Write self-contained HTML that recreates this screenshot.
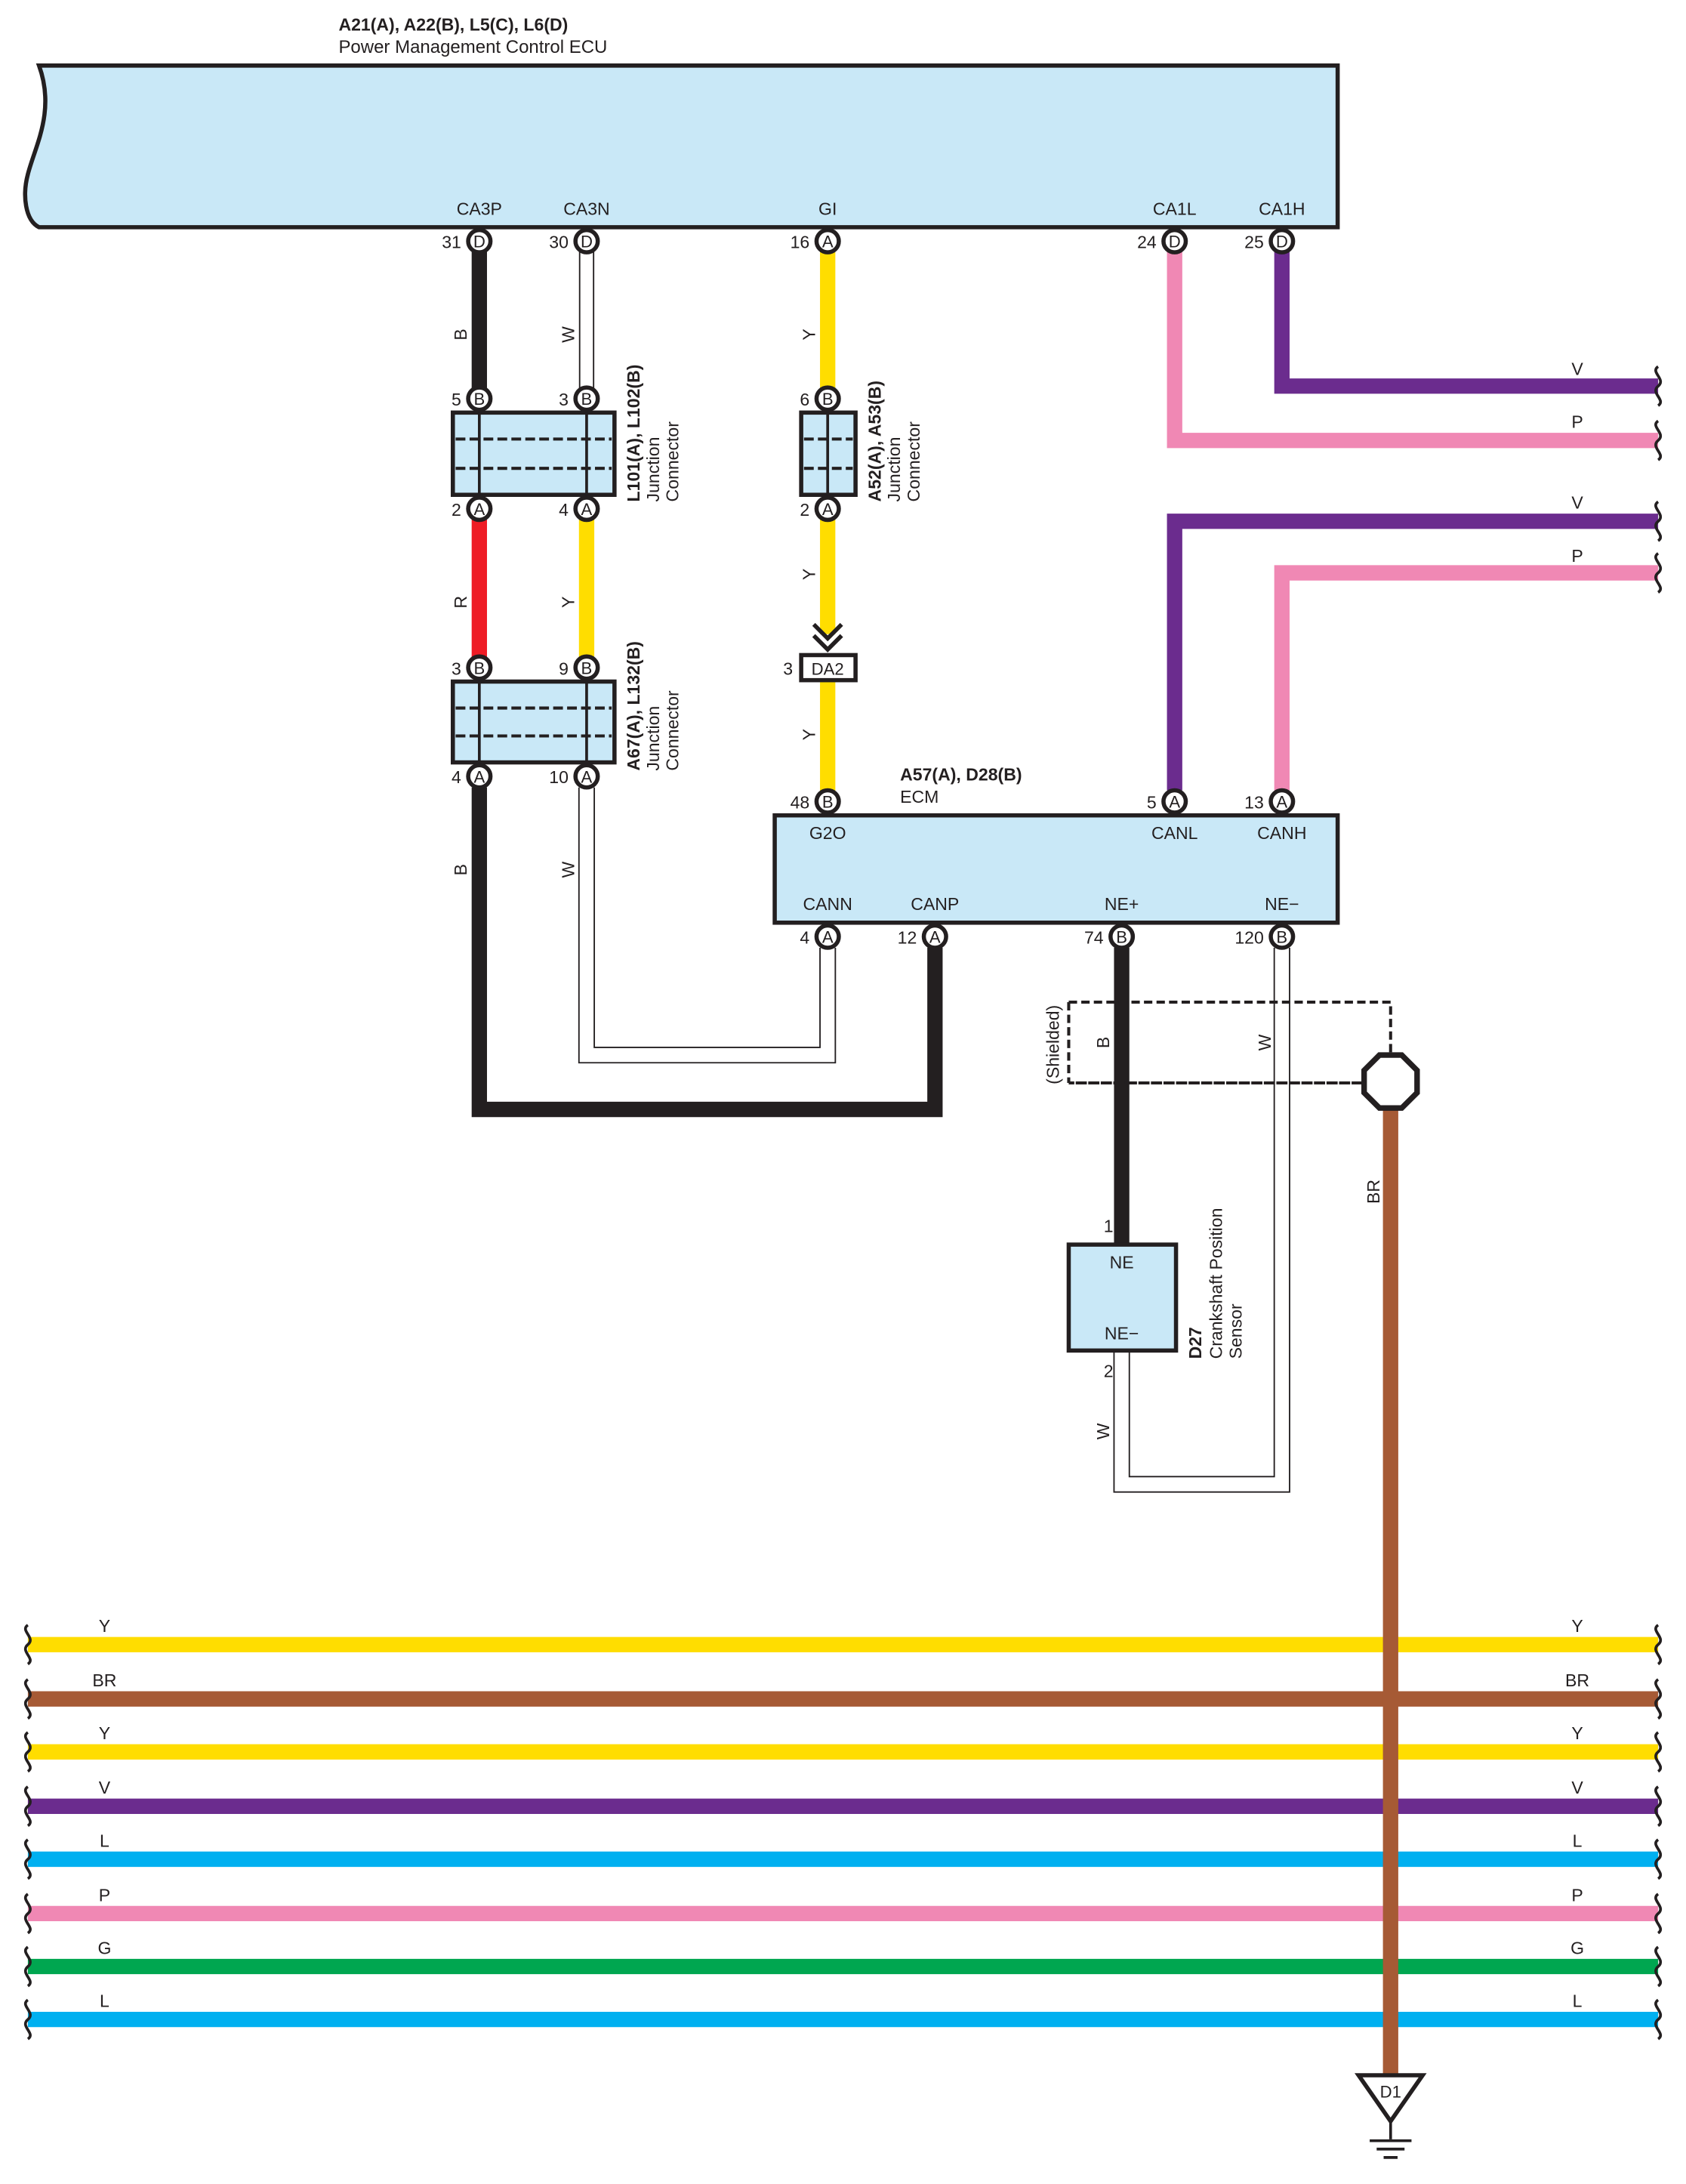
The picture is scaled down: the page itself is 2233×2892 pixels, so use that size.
<!DOCTYPE html>
<html><head><meta charset="utf-8"><style>
html,body{margin:0;padding:0;background:#fff}
svg{display:block}
text{font-family:"Liberation Sans",Arial,sans-serif;fill:#231f20}
</style></head><body>
<svg width="2233" height="2892" viewBox="0 0 1210 1567" xmlns="http://www.w3.org/2000/svg">
<defs>
<path id="sq" d="M0,-14 c-6,4 6,9 0,14 c-6,5 6,10 0,14" fill="none" stroke="#231f20" stroke-width="2"/>
</defs>
<rect width="1210" height="1567" fill="#fff"/>

<!-- ECU -->
<text x="243" y="22" font-size="12.5" font-weight="bold">A21(A), A22(B), L5(C), L6(D)</text>
<text x="243" y="38" font-size="13">Power Management Control ECU</text>
<path d="M28,47 L960,47 L960,163 L28,163 C18,158 16,140 20,125 C25,105 40,80 28,47 Z" fill="#c9e8f7" stroke="#231f20" stroke-width="3"/>
<g font-size="12.5" text-anchor="middle">
<text x="344" y="154">CA3P</text><text x="421" y="154">CA3N</text><text x="594" y="154">GI</text><text x="843" y="154">CA1L</text><text x="920" y="154">CA1H</text>
</g>

<!-- Top wires -->
<line x1="344" y1="180" x2="344" y2="280" stroke="#231f20" stroke-width="11"/>
<line x1="421" y1="180" x2="421" y2="280" stroke="#231f20" stroke-width="11"/>
<line x1="421" y1="178" x2="421" y2="282" stroke="#fff" stroke-width="9"/>
<line x1="594" y1="180" x2="594" y2="280" stroke="#ffdd00" stroke-width="11"/>
<path d="M843,180 L843,316 L1190,316" fill="none" stroke="#f088b4" stroke-width="11"/>
<path d="M920,180 L920,277 L1190,277" fill="none" stroke="#6b2c8e" stroke-width="11"/>
<path d="M843,567 L843,374 L1190,374" fill="none" stroke="#6b2c8e" stroke-width="11"/>
<path d="M920,567 L920,411 L1190,411" fill="none" stroke="#f088b4" stroke-width="11"/>
<use href="#sq" x="1190" y="277"/><use href="#sq" x="1190" y="316"/><use href="#sq" x="1190" y="374"/><use href="#sq" x="1190" y="411"/>
<g font-size="12.5" text-anchor="middle">
<text x="1132" y="269">V</text><text x="1132" y="307">P</text><text x="1132" y="365">V</text><text x="1132" y="403">P</text>
</g>

<!-- mid wires -->
<line x1="344" y1="372" x2="344" y2="472" stroke="#ee1c25" stroke-width="11"/>
<line x1="421" y1="372" x2="421" y2="472" stroke="#ffdd00" stroke-width="11"/>
<line x1="594" y1="372" x2="594" y2="455" stroke="#ffdd00" stroke-width="11"/>
<line x1="594" y1="488" x2="594" y2="570" stroke="#ffdd00" stroke-width="11"/>
<path d="M584,448 L594,458 L604,448 M584,456 L594,466 L604,456" fill="none" stroke="#231f20" stroke-width="3"/>
<rect x="575" y="470" width="39" height="18" fill="#fff" stroke="#231f20" stroke-width="3"/>
<text x="594" y="484" font-size="12" text-anchor="middle">DA2</text>
<text x="569" y="484" font-size="12.5" text-anchor="end">3</text>

<!-- lower loops -->
<path d="M344,565 L344,796 L671,796 L671,680" fill="none" stroke="#231f20" stroke-width="11"/>
<path d="M421,565 L421,757 L594,757 L594,680" fill="none" stroke="#231f20" stroke-width="12"/>
<path d="M421,563 L421,757 L594,757 L594,678" fill="none" stroke="#fff" stroke-width="10"/>

<!-- Junction boxes -->
<g stroke="#231f20" fill="#c9e8f7">
<rect x="325" y="296" width="116" height="59" stroke-width="3"/>
<rect x="325" y="489" width="116" height="58" stroke-width="3"/>
<rect x="575" y="296" width="39" height="59" stroke-width="3"/>
</g>
<g stroke="#231f20" stroke-width="2">
<line x1="344" y1="296" x2="344" y2="355"/><line x1="421" y1="296" x2="421" y2="355"/>
<line x1="344" y1="489" x2="344" y2="547"/><line x1="421" y1="489" x2="421" y2="547"/>
<line x1="594" y1="296" x2="594" y2="355"/>
</g>
<g stroke="#231f20" stroke-width="2.2" stroke-dasharray="7,3">
<line x1="327" y1="315" x2="439" y2="315"/><line x1="327" y1="336" x2="439" y2="336"/>
<line x1="327" y1="508" x2="439" y2="508"/><line x1="327" y1="528" x2="439" y2="528"/>
<line x1="577" y1="315" x2="612" y2="315"/><line x1="577" y1="336" x2="612" y2="336"/>
</g>
<g font-size="12.5">
<text transform="translate(459,360) rotate(-90)" font-weight="bold">L101(A), L102(B)</text>
<text transform="translate(473,360) rotate(-90)">Junction</text>
<text transform="translate(487,360) rotate(-90)">Connector</text>
<text transform="translate(459,553) rotate(-90)" font-weight="bold">A67(A), L132(B)</text>
<text transform="translate(473,553) rotate(-90)">Junction</text>
<text transform="translate(487,553) rotate(-90)">Connector</text>
<text transform="translate(632,360) rotate(-90)" font-weight="bold">A52(A), A53(B)</text>
<text transform="translate(646,360) rotate(-90)">Junction</text>
<text transform="translate(660,360) rotate(-90)">Connector</text>
</g>

<!-- ECM -->
<text x="646" y="560" font-size="12.5" font-weight="bold">A57(A), D28(B)</text>
<text x="646" y="576" font-size="12.5">ECM</text>
<rect x="556" y="585" width="404" height="77" fill="#c9e8f7" stroke="#231f20" stroke-width="3"/>
<g font-size="12.5" text-anchor="middle">
<text x="594" y="602">G2O</text><text x="843" y="602">CANL</text><text x="920" y="602">CANH</text>
<text x="594" y="653">CANN</text><text x="671" y="653">CANP</text><text x="805" y="653">NE+</text><text x="920" y="653">NE−</text>
</g>

<!-- sensor wires -->
<line x1="805" y1="680" x2="805" y2="895" stroke="#231f20" stroke-width="11"/>
<path d="M920,680 L920,1065 L805,1065 L805,968" fill="none" stroke="#231f20" stroke-width="12"/>
<path d="M920,678 L920,1065 L805,1065 L805,966" fill="none" stroke="#fff" stroke-width="10"/>
<path d="M767,719 L998,719 L998,757 M978,777 L767,777 Z" fill="none" stroke="#231f20" stroke-width="2.2" stroke-dasharray="6,3"/>
<line x1="767" y1="719" x2="767" y2="777" stroke="#231f20" stroke-width="2.2" stroke-dasharray="6,3"/>
<text transform="translate(760,778) rotate(-90)" font-size="12.5">(Shielded)</text>

<!-- sensor -->
<rect x="767" y="893" width="77" height="76" fill="#c9e8f7" stroke="#231f20" stroke-width="3"/>
<text x="805" y="910" font-size="12.5" text-anchor="middle">NE</text>
<text x="805" y="961" font-size="12.5" text-anchor="middle">NE−</text>
<text x="799" y="884" font-size="12.5" text-anchor="end">1</text>
<text x="799" y="988" font-size="12.5" text-anchor="end">2</text>
<text transform="translate(862,975) rotate(-90)" font-size="12.5" font-weight="bold">D27</text>
<text transform="translate(877,975) rotate(-90)" font-size="12.5">Crankshaft Position</text>
<text transform="translate(891,975) rotate(-90)" font-size="12.5">Sensor</text>

<!-- bottom harness -->
<g stroke-width="11">
<line x1="20" y1="1180" x2="1190" y2="1180" stroke="#ffdd00"/>
<line x1="20" y1="1219" x2="1190" y2="1219" stroke="#a65a35"/>
<line x1="20" y1="1257" x2="1190" y2="1257" stroke="#ffdd00"/>
<line x1="20" y1="1296" x2="1190" y2="1296" stroke="#6b2c8e"/>
<line x1="20" y1="1334" x2="1190" y2="1334" stroke="#00b0f0"/>
<line x1="20" y1="1373" x2="1190" y2="1373" stroke="#f088b4"/>
<line x1="20" y1="1411" x2="1190" y2="1411" stroke="#00a650"/>
<line x1="20" y1="1449" x2="1190" y2="1449" stroke="#00b0f0"/>
</g>
<g>
<use href="#sq" x="20" y="1180"/><use href="#sq" x="20" y="1219"/><use href="#sq" x="20" y="1257"/><use href="#sq" x="20" y="1296"/>
<use href="#sq" x="20" y="1334"/><use href="#sq" x="20" y="1373"/><use href="#sq" x="20" y="1411"/><use href="#sq" x="20" y="1449"/>
<use href="#sq" x="1190" y="1180"/><use href="#sq" x="1190" y="1219"/><use href="#sq" x="1190" y="1257"/><use href="#sq" x="1190" y="1296"/>
<use href="#sq" x="1190" y="1334"/><use href="#sq" x="1190" y="1373"/><use href="#sq" x="1190" y="1411"/><use href="#sq" x="1190" y="1449"/>
</g>
<g font-size="12.5" text-anchor="middle">
<text x="75" y="1171">Y</text><text x="75" y="1210">BR</text><text x="75" y="1248">Y</text><text x="75" y="1287">V</text>
<text x="75" y="1325">L</text><text x="75" y="1364">P</text><text x="75" y="1402">G</text><text x="75" y="1440">L</text>
<text x="1132" y="1171">Y</text><text x="1132" y="1210">BR</text><text x="1132" y="1248">Y</text><text x="1132" y="1287">V</text>
<text x="1132" y="1325">L</text><text x="1132" y="1364">P</text><text x="1132" y="1402">G</text><text x="1132" y="1440">L</text>
</g>

<!-- BR vertical to ground -->
<line x1="998" y1="795" x2="998" y2="1492" stroke="#a65a35" stroke-width="11"/>
<polygon points="990,757 1006,757 1017,768 1017,784 1006,795 990,795 979,784 979,768" fill="#fff" stroke="#231f20" stroke-width="4"/>
<polygon points="975,1489 1021,1489 998,1522" fill="#fff" stroke="#231f20" stroke-width="3"/>
<text x="998" y="1505" font-size="12" text-anchor="middle">D1</text>
<g stroke="#231f20" stroke-width="2">
<line x1="998" y1="1522" x2="998" y2="1535"/>
<line x1="983" y1="1536" x2="1013" y2="1536"/>
<line x1="988" y1="1542" x2="1008" y2="1542"/>
<line x1="993" y1="1548" x2="1003" y2="1548"/>
</g>

<!-- wire labels (rotated) -->
<g font-size="12.5" text-anchor="middle">
<text transform="translate(335,240) rotate(-90)">B</text>
<text transform="translate(412,240) rotate(-90)">W</text>
<text transform="translate(585,240) rotate(-90)">Y</text>
<text transform="translate(335,432) rotate(-90)">R</text>
<text transform="translate(412,432) rotate(-90)">Y</text>
<text transform="translate(585,412) rotate(-90)">Y</text>
<text transform="translate(585,527) rotate(-90)">Y</text>
<text transform="translate(335,624) rotate(-90)">B</text>
<text transform="translate(412,624) rotate(-90)">W</text>
<text transform="translate(796,748) rotate(-90)">B</text>
<text transform="translate(912,748) rotate(-90)">W</text>
<text transform="translate(990,855) rotate(-90)">BR</text>
<text transform="translate(796,1027) rotate(-90)">W</text>
</g>

<!-- pins -->
<g font-size="12" text-anchor="middle">
<g stroke="#231f20" stroke-width="3" fill="#fff">
<circle cx="344" cy="173" r="8"/><circle cx="421" cy="173" r="8"/><circle cx="594" cy="173" r="8"/><circle cx="843" cy="173" r="8"/><circle cx="920" cy="173" r="8"/>
<circle cx="344" cy="286" r="8"/><circle cx="421" cy="286" r="8"/><circle cx="594" cy="286" r="8"/>
<circle cx="344" cy="365" r="8"/><circle cx="421" cy="365" r="8"/><circle cx="594" cy="365" r="8"/>
<circle cx="344" cy="479" r="8"/><circle cx="421" cy="479" r="8"/>
<circle cx="344" cy="557" r="8"/><circle cx="421" cy="557" r="8"/>
<circle cx="594" cy="575" r="8"/><circle cx="843" cy="575" r="8"/><circle cx="920" cy="575" r="8"/>
<circle cx="594" cy="672" r="8"/><circle cx="671" cy="672" r="8"/><circle cx="805" cy="672" r="8"/><circle cx="920" cy="672" r="8"/>
</g>
<text x="344" y="177.5">D</text><text x="421" y="177.5">D</text><text x="594" y="177.5">A</text><text x="843" y="177.5">D</text><text x="920" y="177.5">D</text>
<text x="344" y="290.5">B</text><text x="421" y="290.5">B</text><text x="594" y="290.5">B</text>
<text x="344" y="369.5">A</text><text x="421" y="369.5">A</text><text x="594" y="369.5">A</text>
<text x="344" y="483.5">B</text><text x="421" y="483.5">B</text>
<text x="344" y="561.5">A</text><text x="421" y="561.5">A</text>
<text x="594" y="579.5">B</text><text x="843" y="579.5">A</text><text x="920" y="579.5">A</text>
<text x="594" y="676.5">A</text><text x="671" y="676.5">A</text><text x="805" y="676.5">B</text><text x="920" y="676.5">B</text>
</g>
<g font-size="12.5" text-anchor="end">
<text x="331" y="178">31</text><text x="408" y="178">30</text><text x="581" y="178">16</text><text x="830" y="178">24</text><text x="907" y="178">25</text>
<text x="331" y="291">5</text><text x="408" y="291">3</text><text x="581" y="291">6</text>
<text x="331" y="370">2</text><text x="408" y="370">4</text><text x="581" y="370">2</text>
<text x="331" y="484">3</text><text x="408" y="484">9</text>
<text x="331" y="562">4</text><text x="408" y="562">10</text>
<text x="581" y="580">48</text><text x="830" y="580">5</text><text x="907" y="580">13</text>
<text x="581" y="677">4</text><text x="658" y="677">12</text><text x="792" y="677">74</text><text x="907" y="677">120</text>
</g>
</svg>
</body></html>
